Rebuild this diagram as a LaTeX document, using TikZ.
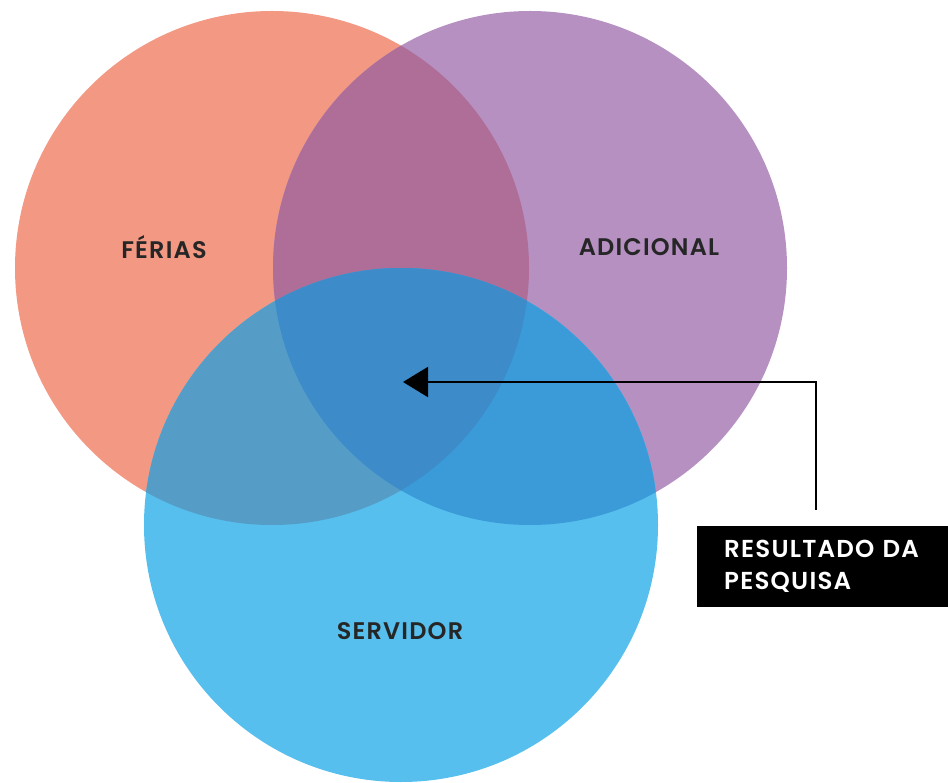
\documentclass[tikz,border=0pt]{standalone}
\usepackage{fontspec}
\setmainfont{Poppins}[UprightFont=* SemiBold, LetterSpace=5]
\usepackage{tikz}
\usetikzlibrary{arrows.meta}
\definecolor{ferias}{HTML}{F29883}
\definecolor{adicional}{HTML}{B590C1}
\definecolor{servidor}{HTML}{56BFEE}
\definecolor{feriasadic}{HTML}{AF6E98}
\definecolor{feriasserv}{HTML}{559DC6}
\definecolor{adicserv}{HTML}{3B9BD9}
\definecolor{todos}{HTML}{3D8BC8}
\tikzset{
  setlabel/.style={text=black!85, font=\fontsize{24}{28}\selectfont},
  resbox/.style={fill=black, text=white, font=\fontsize{24.5}{32}\selectfont,
    anchor=north west, align=left, text width=215pt, inner xsep=27pt,
    minimum height=81pt},
  pointer/.style={black, line width=2pt, -{Triangle[length=25pt, width=30pt]}}
}

\begin{document}
\begin{tikzpicture}[x=1pt, y=-1pt]
\useasboundingbox (0,0) rectangle (948,783);
\coordinate (F) at (272,268);
\coordinate (A) at (530,268);
\coordinate (S) at (401,525);
% the three sets
\fill[ferias] (F) circle (257);
\fill[adicional] (A) circle (257);
\fill[servidor] (S) circle (257);
% overlaps
\begin{scope}
\clip (F) circle (257);
\fill[feriasadic] (A) circle (257);
\fill[feriasserv] (S) circle (257);
\end{scope}
\begin{scope}
\clip (A) circle (257);
\fill[adicserv] (S) circle (257);
\clip (S) circle (257);
\fill[todos] (F) circle (257);
\end{scope}
\node[setlabel] (ferias) at (164,247) {FÉRIAS};
\node[setlabel] (adicional) at (649,247) {ADICIONAL};
\node[setlabel] (servidor) at (400,631) {SERVIDOR};
\node[resbox] (result) at (697,526) {RESULTADO DA\\PESQUISA};
\coordinate (start) at (816,510);
\coordinate (tip) at (403,382);
\draw[pointer] (start) |- (tip);
\end{tikzpicture}
\end{document}
